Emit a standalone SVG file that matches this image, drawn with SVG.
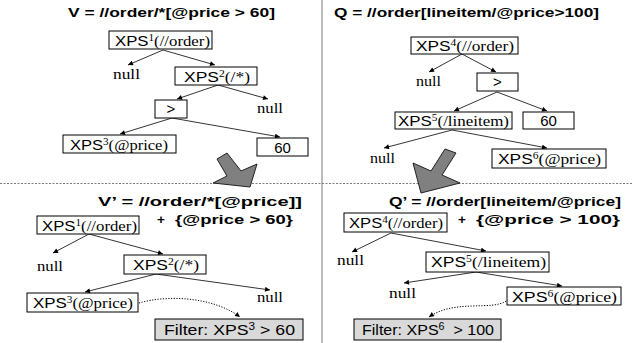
<svg xmlns="http://www.w3.org/2000/svg" width="639" height="343" viewBox="0 0 639 343">
  <defs>
    <marker id="ah" viewBox="0 0 10 10" refX="10" refY="5" markerWidth="6" markerHeight="5" markerUnits="userSpaceOnUse" orient="auto">
      <path d="M0,0 L10,5 L0,10 z" fill="#000"/>
    </marker>
    <style>
      .box { fill: #fff; stroke: #000; stroke-width: 1; }
      .filter { fill: #d9d9d9; stroke: #000; stroke-width: 1; }
      .edge { fill: none; stroke: #000; stroke-width: 0.8; marker-end: url(#ah); }
      .dot { fill: none; stroke: #000; stroke-width: 1; stroke-dasharray: 1.2 1.5; marker-end: url(#ah); }
      .sep { stroke: #7a7a7a; stroke-width: 1; fill: none; }
      .dash { stroke: #7a7a7a; stroke-width: 1; stroke-dasharray: 2 1.5; fill: none; }
      .big { fill: #808080; stroke: #222; stroke-width: 1; }
      .title { font-family: "Liberation Sans", Arial, sans-serif; font-weight: bold; font-size: 13.5px; fill: #000; }
      .lbl { font-family: "Liberation Serif", "Times New Roman", serif; font-size: 15px; fill: #000; }
      .sans { font-family: "Liberation Sans", Arial, sans-serif; }
      .sup { font-size: 10px; }
    </style>
  </defs>

  <!-- panel separators -->
  <g id="separators">
    <line class="sep" x1="322" y1="0" x2="322" y2="343"/>
    <line class="dash" x1="0" y1="183.5" x2="632" y2="183.5"/>
  </g>

  <!-- queries -->
  <g id="titles">
    <text class="title" x="68" y="17" textLength="207" lengthAdjust="spacingAndGlyphs">V = //order/*[@price &gt; 60]</text>
    <text class="title" x="334" y="17" textLength="265" lengthAdjust="spacingAndGlyphs">Q = //order[lineitem/@price&gt;100]</text>
    <text class="title" x="98" y="206" textLength="204" lengthAdjust="spacingAndGlyphs">V’ = //order/*[@price]]</text>
    <text class="title" x="157" y="224">+</text>
    <text class="title" x="175" y="224" textLength="118" lengthAdjust="spacingAndGlyphs">{@price &gt; 60}</text>
    <text class="title" x="389" y="206" textLength="232" lengthAdjust="spacingAndGlyphs">Q’ = //order[lineitem/@price]</text>
    <text class="title" x="458" y="224">+</text>
    <text class="title" x="476" y="224" textLength="144" lengthAdjust="spacingAndGlyphs">{@price &gt; 100}</text>
  </g>

  <!-- rewrite arrows -->
  <g id="rewrite-arrows">
    <polygon class="big" points="217,159 227,153 241,171 257,164 250,187 213,183 227,176"/>
    <polygon class="big" points="445,149 456,153 442,175 460,183 421,193 413,163 431,171"/>
  </g>

  <!-- tree edges -->
  <g id="connectors">
    <line class="edge" x1="163" y1="50" x2="128" y2="65"/>
    <line class="edge" x1="163" y1="50" x2="215" y2="65"/>
    <line class="edge" x1="218" y1="85" x2="177" y2="99"/>
    <line class="edge" x1="218" y1="85" x2="268" y2="99"/>
    <line class="edge" x1="172" y1="118" x2="120" y2="134"/>
    <line class="edge" x1="172" y1="118" x2="280" y2="137"/>

    <line class="edge" x1="462" y1="54" x2="429" y2="72"/>
    <line class="edge" x1="462" y1="54" x2="496" y2="72"/>
    <line class="edge" x1="497" y1="92" x2="454" y2="111"/>
    <line class="edge" x1="497" y1="92" x2="547" y2="111"/>
    <line class="edge" x1="452" y1="130" x2="384" y2="148"/>
    <line class="edge" x1="452" y1="130" x2="547" y2="148"/>

    <line class="edge" x1="89" y1="234" x2="53" y2="253"/>
    <line class="edge" x1="89" y1="234" x2="163" y2="254"/>
    <line class="edge" x1="156" y1="274" x2="85" y2="292"/>
    <line class="edge" x1="156" y1="274" x2="270" y2="290"/>

    <line class="edge" x1="391" y1="233" x2="352" y2="252"/>
    <line class="edge" x1="391" y1="233" x2="486" y2="251"/>
    <line class="edge" x1="476" y1="272" x2="404" y2="283"/>
    <line class="edge" x1="476" y1="272" x2="562" y2="286"/>

    <path class="dot" d="M139,303 C170,294 215,298 240,317"/>
    <path class="dot" d="M506,301 C492,311 455,299 429,317"/>
  </g>

  <!-- V tree -->
  <g id="v-xps1">
    <rect class="box" x="109" y="31" width="103" height="18"/>
    <text class="lbl" x="115" y="45.5" textLength="95" lengthAdjust="spacingAndGlyphs"><tspan class="sans">XPS</tspan><tspan class="sup" dy="-5">1</tspan><tspan dy="5">(//order)</tspan></text>
  </g>
  <g id="v-null1"><text class="lbl" x="113" y="79" textLength="27" lengthAdjust="spacingAndGlyphs">null</text></g>
  <g id="v-xps2">
    <rect class="box" x="175" y="67" width="82" height="18"/>
    <text class="lbl" x="184" y="81.5" textLength="66" lengthAdjust="spacingAndGlyphs"><tspan class="sans">XPS</tspan><tspan class="sup" dy="-5">2</tspan><tspan dy="5">(/*)</tspan></text>
  </g>
  <g id="v-gt">
    <rect class="box" x="155" y="100" width="32" height="18"/>
    <text class="lbl sans" x="171" y="114" text-anchor="middle" font-size="13">&gt;</text>
  </g>
  <g id="v-null2"><text class="lbl" x="257" y="113" textLength="26" lengthAdjust="spacingAndGlyphs">null</text></g>
  <g id="v-xps3">
    <rect class="box" x="63" y="135" width="113" height="18"/>
    <text class="lbl" x="70" y="149.5" textLength="98" lengthAdjust="spacingAndGlyphs"><tspan class="sans">XPS</tspan><tspan class="sup" dy="-5">3</tspan><tspan dy="5">(@price)</tspan></text>
  </g>
  <g id="v-60">
    <rect class="box" x="257" y="138" width="51" height="18"/>
    <text class="lbl sans" x="282.5" y="152.5" text-anchor="middle" font-size="14">60</text>
  </g>

  <!-- Q tree -->
  <g id="q-xps4">
    <rect class="box" x="411" y="37" width="107" height="17"/>
    <text class="lbl" x="416" y="51" textLength="98" lengthAdjust="spacingAndGlyphs"><tspan class="sans">XPS</tspan><tspan class="sup" dy="-5">4</tspan><tspan dy="5">(//order)</tspan></text>
  </g>
  <g id="q-null1"><text class="lbl" x="416" y="86" textLength="25" lengthAdjust="spacingAndGlyphs">null</text></g>
  <g id="q-gt">
    <rect class="box" x="477" y="73" width="41" height="18"/>
    <text class="lbl sans" x="497.5" y="87" text-anchor="middle" font-size="13">&gt;</text>
  </g>
  <g id="q-xps5">
    <rect class="box" x="395" y="112" width="117" height="17"/>
    <text class="lbl" x="398" y="126" textLength="111" lengthAdjust="spacingAndGlyphs"><tspan class="sans">XPS</tspan><tspan class="sup" dy="-5">5</tspan><tspan dy="5">(/lineitem)</tspan></text>
  </g>
  <g id="q-60">
    <rect class="box" x="523" y="112" width="51" height="17"/>
    <text class="lbl sans" x="548.5" y="126" text-anchor="middle" font-size="14">60</text>
  </g>
  <g id="q-null2"><text class="lbl" x="370" y="163" textLength="25" lengthAdjust="spacingAndGlyphs">null</text></g>
  <g id="q-xps6">
    <rect class="box" x="492" y="149" width="114" height="19"/>
    <text class="lbl" x="498" y="164" textLength="103" lengthAdjust="spacingAndGlyphs"><tspan class="sans">XPS</tspan><tspan class="sup" dy="-5">6</tspan><tspan dy="5">(@price)</tspan></text>
  </g>

  <!-- V' tree -->
  <g id="v2-xps1">
    <rect class="box" x="37" y="216" width="102" height="18"/>
    <text class="lbl" x="42" y="230.5" textLength="95" lengthAdjust="spacingAndGlyphs"><tspan class="sans">XPS</tspan><tspan class="sup" dy="-5">1</tspan><tspan dy="5">(//order)</tspan></text>
  </g>
  <g id="v2-null1"><text class="lbl" x="37" y="271" textLength="26" lengthAdjust="spacingAndGlyphs">null</text></g>
  <g id="v2-xps2">
    <rect class="box" x="124" y="255" width="82" height="19"/>
    <text class="lbl" x="133" y="270" textLength="66" lengthAdjust="spacingAndGlyphs"><tspan class="sans">XPS</tspan><tspan class="sup" dy="-5">2</tspan><tspan dy="5">(/*)</tspan></text>
  </g>
  <g id="v2-xps3">
    <rect class="box" x="27" y="293" width="111" height="19"/>
    <text class="lbl" x="33" y="308" textLength="100" lengthAdjust="spacingAndGlyphs"><tspan class="sans">XPS</tspan><tspan class="sup" dy="-5">3</tspan><tspan dy="5">(@price)</tspan></text>
  </g>
  <g id="v2-null2"><text class="lbl" x="257" y="302" textLength="26" lengthAdjust="spacingAndGlyphs">null</text></g>
  <g id="v2-filter">
    <rect class="filter" x="155" y="319" width="148" height="21"/>
    <text class="lbl sans" x="164" y="335" textLength="131" lengthAdjust="spacingAndGlyphs">Filter: XPS<tspan class="sup" dy="-5">3</tspan><tspan dy="5"> &gt; 60</tspan></text>
  </g>

  <!-- Q' tree -->
  <g id="q2-xps4">
    <rect class="box" x="344" y="213" width="103" height="19"/>
    <text class="lbl" x="349" y="228" textLength="94" lengthAdjust="spacingAndGlyphs"><tspan class="sans">XPS</tspan><tspan class="sup" dy="-5">4</tspan><tspan dy="5">(//order)</tspan></text>
  </g>
  <g id="q2-null1"><text class="lbl" x="337" y="265" textLength="27" lengthAdjust="spacingAndGlyphs">null</text></g>
  <g id="q2-xps5">
    <rect class="box" x="426" y="252" width="123" height="20"/>
    <text class="lbl" x="431" y="267" textLength="115" lengthAdjust="spacingAndGlyphs"><tspan class="sans">XPS</tspan><tspan class="sup" dy="-5">5</tspan><tspan dy="5">(/lineitem)</tspan></text>
  </g>
  <g id="q2-null2"><text class="lbl" x="389" y="298" textLength="27" lengthAdjust="spacingAndGlyphs">null</text></g>
  <g id="q2-xps6">
    <rect class="box" x="507" y="287" width="114" height="18"/>
    <text class="lbl" x="512" y="301.5" textLength="105" lengthAdjust="spacingAndGlyphs"><tspan class="sans">XPS</tspan><tspan class="sup" dy="-5">6</tspan><tspan dy="5">(@price)</tspan></text>
  </g>
  <g id="q2-filter">
    <rect class="filter" x="354" y="319" width="147" height="21"/>
    <text class="lbl sans" x="362" y="335" textLength="132" lengthAdjust="spacingAndGlyphs">Filter: XPS<tspan class="sup" dy="-5">6</tspan><tspan dy="5">&#160; &gt; 100</tspan></text>
  </g>
</svg>
